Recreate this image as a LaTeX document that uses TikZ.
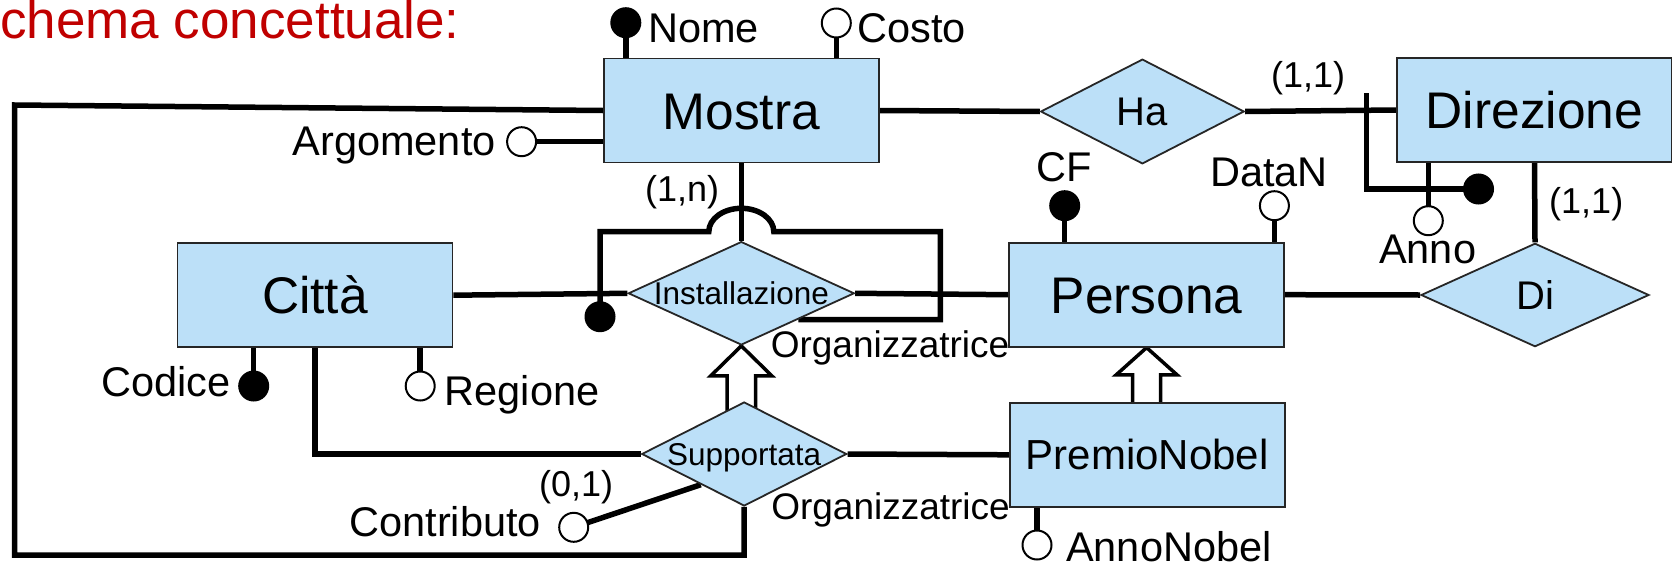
\documentclass[tikz,border=0pt]{standalone}
\usepackage{fontspec}
\setmainfont{Liberation Sans}
\usetikzlibrary{shapes.geometric,calc}
\definecolor{erblue}{RGB}{188,224,248}
\definecolor{titlered}{RGB}{192,0,0}
\pgfdeclarelayer{paper}
\pgfdeclarelayer{wires}
\pgfsetlayers{paper,wires,main}

\begin{document}
\begin{tikzpicture}[x=1pt,y=-1pt,
  ent/.style={draw=black!85, line width=1.8pt, fill=erblue, minimum width=275pt,
    minimum height=104pt, inner sep=0pt, font=\fontsize{51.5}{60}\selectfont,
    text height=37pt, text depth=0pt},
  nobelent/.style={ent, font=\fontsize{42}{50}\selectfont, text height=30pt},
  rel/.style={diamond, draw=black!85, line width=1.8pt, fill=erblue, inner sep=0pt},
  rtxt/.style={font=\fontsize{40}{48}\selectfont, inner sep=0pt, text height=28.6pt, text depth=0pt},
  stxt/.style={font=\fontsize{31.5}{38}\selectfont, inner sep=0pt, text height=22.5pt, text depth=0pt},
  conn/.style={line width=5.5pt},
  isa/.style={line width=3.5pt, fill=white, line join=miter},
  idattr/.style={circle, fill=black, draw=black, line width=2pt, minimum size=29pt, inner sep=0pt},
  attr/.style={circle, fill=white, draw=black, line width=2pt, minimum size=29pt, inner sep=0pt},
  atxt/.style={font=\fontsize{41.5}{48}\selectfont, inner sep=0pt},
  card/.style={font=\fontsize{36}{42}\selectfont, inner sep=0pt},
  ortxt/.style={font=\fontsize{37}{44}\selectfont, inner sep=0pt}]

\useasboundingbox (0,0) rectangle (1672,570);
\begin{pgfonlayer}{paper}
  \fill[white] (0,0) rectangle (1672,570);
\end{pgfonlayer}

% heading
\node[anchor=base west, inner sep=0pt, text=titlered, font=\fontsize{53}{60}\selectfont]
  (title) at (0,38.5) {chema concettuale:};

% entities
\node[ent] (mostra) at (741.3,110.5) {Mostra};
\node[ent] (citta) at (315,295.2) {Città};
\node[ent] (persona) at (1146.6,294.7) {Persona};
\node[nobelent] (nobel) at (1147.2,454.8) {PremioNobel};
\node[ent] (dir) at (1534.5,110) {Direzione};

% relationships
\node[rel, minimum width=203.5pt, minimum height=104.7pt, label={[rtxt]center:Ha}] (ha) at (1142.4,111.5) {};
\node[rel, minimum width=226pt, minimum height=103.4pt, label={[stxt]center:Installazione}] (inst) at (741.3,293.3) {};
\node[rel, minimum width=205pt, minimum height=104pt, label={[stxt]center:Supportata}] (supp) at (744.2,454) {};
\node[rel, minimum width=228pt, minimum height=103.4pt, label={[rtxt]center:Di}] (di) at (1535,295) {};

% attributes
\node[idattr] (nome) at (625.8,22.7) {};
\node[attr] (costo) at (836.3,23) {};
\node[attr] (arg) at (521.6,141.7) {};
\node[idattr] (cf) at (1064.7,205.7) {};
\node[attr] (datan) at (1274.4,205.7) {};
\node[attr] (anno) at (1428.3,220.7) {};
\node[idattr] (codice) at (253.7,386) {};
\node[attr] (regione) at (420.2,386) {};
\node[attr] (annonobel) at (1037,545) {};
\node[attr] (contributo) at (573.7,527.3) {};
\node[idattr] (instid) at (600,316.7) {};
\node[idattr] (dirid) at (1478.5,189) {};

% attribute names
\node[atxt, anchor=base west] (nome-t) at (648,42) {Nome};
\node[atxt, anchor=base west] (costo-t) at (857,42) {Costo};
\node[atxt, anchor=base west] (arg-t) at (292.5,155) {Argomento};
\node[atxt, anchor=base west] (cf-t) at (1036,181.7) {CF};
\node[atxt, anchor=base west] (datan-t) at (1210,186.7) {DataN};
\node[atxt, anchor=base west] (anno-t) at (1379,263.3) {Anno};
\node[atxt, anchor=base east] (codice-t) at (230.5,396.5) {Codice};
\node[atxt, anchor=base west] (regione-t) at (444.5,405) {Regione};
\node[atxt, anchor=base west] (annonobel-t) at (1066,561.7) {AnnoNobel};
\node[atxt, anchor=base west] (contributo-t) at (349.3,536.7) {Contributo};

% roles and cardinalities
\node[ortxt, anchor=base east] (role1) at (1009.5,357) {Organizzatrice};
\node[ortxt, anchor=base east] (role2) at (1010,519.3) {Organizzatrice};
\node[card, anchor=base west] (c1n) at (645,201.5) {(1,n)};
\node[card, anchor=base west] (c11a) at (1271,87) {(1,1)};
\node[card, anchor=base west] (c11b) at (1549,213) {(1,1)};
\node[card, anchor=base west] (c01) at (539,496) {(0,1)};

% bends of the connectors
\coordinate (frameBL) at (14.5,555);
\coordinate (frameTL) at (14.5,105);
\coordinate (hopL) at (708.8,231.7);
\coordinate (loopR) at (940.3,231.7);
\coordinate (dtick) at (1366.7,92.7);

\begin{pgfonlayer}{wires}
  % relationship links
  \draw[conn] (mostra.east) -- (ha.west);
  \draw[conn] (ha.east) -- (dir.west);
  \draw[conn] (mostra.south) -- (inst.north);
  \draw[conn] (citta.east) -- (inst.west);
  \draw[conn] (inst.east) -- (persona.west);
  \draw[conn] (persona.east) -- (di.west);
  \draw[conn] (dir.south) -- (di.north);
  \draw[conn] (citta.south) |- (supp.west);
  \draw[conn] (supp.east) -- (nobel.west);
  \draw[conn] (supp.south) |- (frameBL) -- (frameTL) -- (mostra.west);

  % attribute stems
  \draw[conn] (nome.center) -- (nome |- mostra.north);
  \draw[conn] (costo.center) -- (costo |- mostra.north);
  \draw[conn] (arg.center) -- (arg -| mostra.west);
  \draw[conn] (cf.center) -- (cf |- persona.north);
  \draw[conn] (datan.center) -- (datan |- persona.north);
  \draw[conn] (anno.center) -- (anno |- dir.south);
  \draw[conn] (codice.center) -- (codice |- citta.south);
  \draw[conn] (regione.center) -- (regione |- citta.south);
  \draw[conn] (annonobel.center) -- (annonobel |- nobel.south);
  \draw[conn] (contributo.center) -- ($(supp.west)!0.58!(supp.south)$);

  % external identifiers
  \draw[conn] (instid.center) |- (hopL)
    arc[start angle=180, end angle=0, x radius=32.5pt, y radius=23.4pt]
    -- (loopR) |- ($(inst.east)!0.5!(inst.south)$);
  \draw[conn] (dirid.center) -| (dtick);

  % generalisations
  \draw[isa] ($(inst.south)+(-14.2,66)$) -- ++(0,-36) -- ++(-16.4,0) -- (inst.south)
    -- ++(30.6,30) -- ++(-16.4,0) -- ++(0,36);
  \draw[isa] ($(persona.south)+(-13.9,56)$) -- ++(0,-28.7) -- ++(-16.6,0) -- (persona.south)
    -- ++(30.5,27.3) -- ++(-16.6,0) -- ++(0,28.7);
\end{pgfonlayer}
\end{tikzpicture}
\end{document}
